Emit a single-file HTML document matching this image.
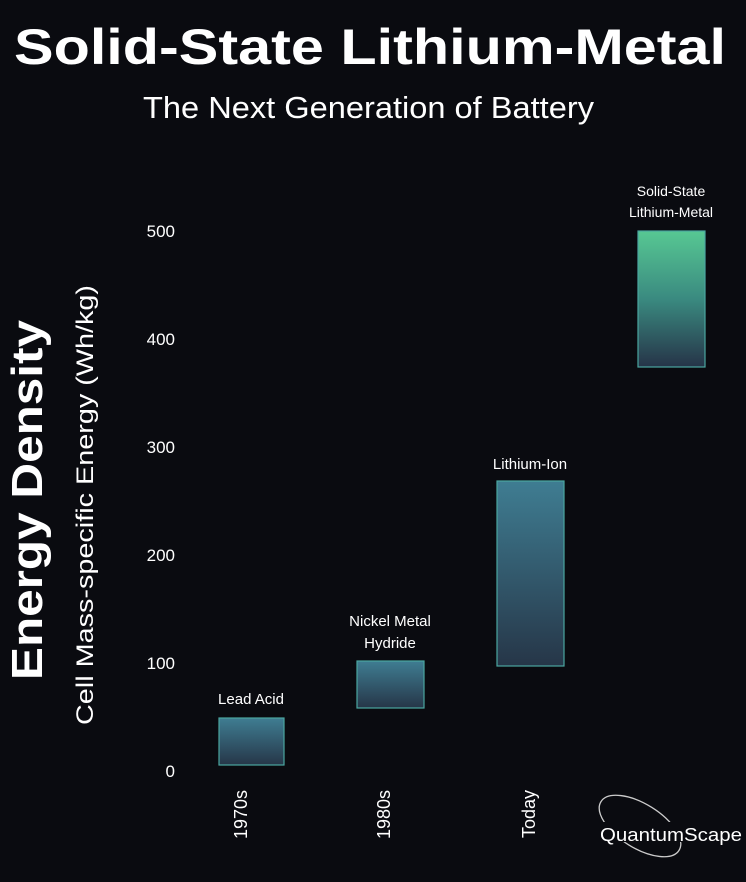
<!DOCTYPE html>
<html><head><style>
body{margin:0;background:#0a0b10;}
svg{display:block}
text{font-family:"Liberation Sans",sans-serif;fill:#fff}
</style></head><body>
<svg width="746" height="882" viewBox="0 0 746 882">
<defs>
<linearGradient id="g1" x1="0" y1="0" x2="0" y2="1"><stop offset="0" stop-color="#3f7d92"/><stop offset="1" stop-color="#263648"/></linearGradient>
<linearGradient id="g2" x1="0" y1="0" x2="0" y2="1"><stop offset="0" stop-color="#57c893"/><stop offset="0.5" stop-color="#3a8a80"/><stop offset="1" stop-color="#263448"/></linearGradient>
</defs>
<rect width="746" height="882" fill="#0a0b10"/>
<text x="14" y="64" font-size="50" font-weight="bold" textLength="712" lengthAdjust="spacingAndGlyphs">Solid-State Lithium-Metal</text>
<text x="143" y="118" font-size="31" textLength="451" lengthAdjust="spacingAndGlyphs">The Next Generation of Battery</text>
<text transform="translate(42,680) rotate(-90)" font-size="44" font-weight="bold" textLength="360" lengthAdjust="spacingAndGlyphs">Energy Density</text>
<text transform="translate(93,725) rotate(-90)" font-size="24" textLength="440" lengthAdjust="spacingAndGlyphs">Cell Mass-specific Energy (Wh/kg)</text>
<g font-size="17" fill="#ddd" text-anchor="end">
<text x="175" y="777">0</text><text x="175" y="669">100</text><text x="175" y="561">200</text><text x="175" y="453">300</text><text x="175" y="345">400</text><text x="175" y="237">500</text>
</g>
<rect x="219" y="718" width="65" height="47" fill="url(#g1)" stroke="#4aa6a0" stroke-width="1.2"/>
<rect x="357" y="661" width="67" height="47" fill="url(#g1)" stroke="#4aa6a0" stroke-width="1.2"/>
<rect x="497" y="481" width="67" height="185" fill="url(#g1)" stroke="#4aa6a0" stroke-width="1.2"/>
<rect x="638" y="231" width="67" height="136" fill="url(#g2)" stroke="#4aa6a0" stroke-width="1.2"/>
<g font-size="15" fill="#e8e8e8" text-anchor="middle">
<text x="251" y="704">Lead Acid</text>
<text x="390" y="626">Nickel Metal</text><text x="390" y="648">Hydride</text>
<text x="530" y="469">Lithium-Ion</text>
<text x="671" y="196" font-size="14">Solid-State</text><text x="671" y="217" font-size="14">Lithium-Metal</text>
</g>
<g font-size="18" fill="#e8e8e8" text-anchor="end">
<text transform="translate(247,790) rotate(-90)">1970s</text>
<text transform="translate(390,790) rotate(-90)">1980s</text>
<text transform="translate(535,790) rotate(-90)">Today</text>
</g>
<ellipse cx="640" cy="826" rx="46" ry="22" transform="rotate(32 640 826)" fill="none" stroke="#ccc" stroke-width="1.3"/>
<rect x="598" y="822" width="148" height="20" fill="#0a0b10"/>
<text x="600" y="841" font-size="18" fill="#eee" textLength="142" lengthAdjust="spacingAndGlyphs">QuantumScape</text>
</svg>
</body></html>
